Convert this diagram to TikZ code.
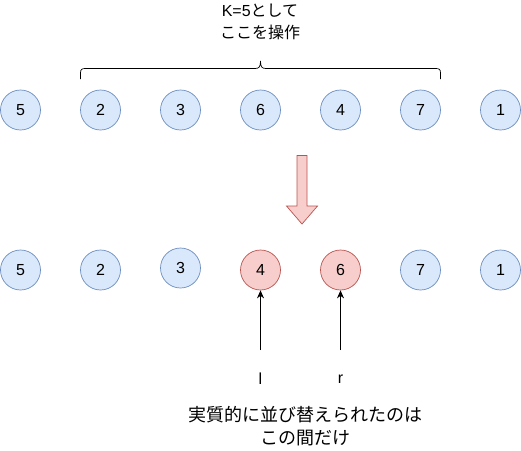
\documentclass[tikz,border=0pt]{standalone}
\usepackage{fontspec}
\setmainfont{Liberation Sans}
\newfontfamily\cjk{Noto Sans CJK JP}
\usetikzlibrary{arrows.meta}
\definecolor{bfill}{HTML}{DAE8FC}
\definecolor{bline}{HTML}{6C8EBF}
\definecolor{rfill}{HTML}{F8CECC}
\definecolor{rline}{HTML}{B85450}
\begin{document}
\begin{tikzpicture}[x=1pt,y=-1pt,
  bnum/.style={circle,draw=bline,fill=bfill,minimum size=40pt,inner sep=0pt,line width=0.7pt,font=\fontsize{16}{18}\selectfont},
  rnum/.style={circle,draw=rline,fill=rfill,minimum size=40pt,inner sep=0pt,line width=0.7pt,font=\fontsize{16}{18}\selectfont},
  lbl/.style={font=\fontsize{16}{22}\selectfont,align=center,inner sep=0pt},
  uparrow/.style={-{Stealth[length=8pt,width=7pt]},line width=0.8pt}]
\useasboundingbox (0,0) rectangle (521,450);
% top row
\node[bnum] (a1) at (20.5,110) {5};
\node[bnum] (a2) at (100.5,110) {2};
\node[bnum] (a3) at (180.5,110) {3};
\node[bnum] (a4) at (260.5,110) {6};
\node[bnum] (a5) at (340.5,110) {4};
\node[bnum] (a6) at (420.5,110) {7};
\node[bnum] (a7) at (500.5,110) {1};
% bottom row
\node[bnum] (b1) at (20.5,270) {5};
\node[bnum] (b2) at (100.5,270) {2};
\node[bnum] (b3) at (180.5,268) {3};
\node[rnum] (b4) at (260.5,270) {4};
\node[rnum] (b5) at (340.5,270) {6};
\node[bnum] (b6) at (420.5,270) {7};
\node[bnum] (b7) at (500.5,270) {1};
% brace
\draw[line width=0.7pt] (80.5,79) -- (80.5,73) .. controls (80.5,69) and (82,68.5) .. (86,68.5)
  -- (255,68.5) .. controls (259,68.5) and (260.5,67) .. (260.5,61)
  .. controls (260.5,67) and (262,68.5) .. (266,68.5)
  -- (435,68.5) .. controls (439,68.5) and (440.5,69) .. (440.5,73) -- (440.5,79);
\node[lbl] (top) at (260,22) {K=5{\cjk として}\\{\cjk ここを操作}};
% block arrow
\draw[draw=rline,fill=rfill,line width=0.7pt] (297,155.5) -- (307,155.5) -- (307,206) -- (317.5,206)
  -- (302,224) -- (286.5,206) -- (297,206) -- cycle;
% pointers
\coordinate (lp) at (260.5,350);
\coordinate (rp) at (340.5,350);
\draw[uparrow] (lp) -- (b4);
\draw[uparrow] (rp) -- (b5);
\node[lbl] (ltxt) at (260.5,379) {l};
\node[lbl] (rtxt) at (340.5,379) {r};
\node[lbl,font=\fontsize{18}{23}\selectfont] (bot) at (305,426) {{\cjk 実質的に並び替えられたのは}\\{\cjk この間だけ}};
\end{tikzpicture}
\end{document}
